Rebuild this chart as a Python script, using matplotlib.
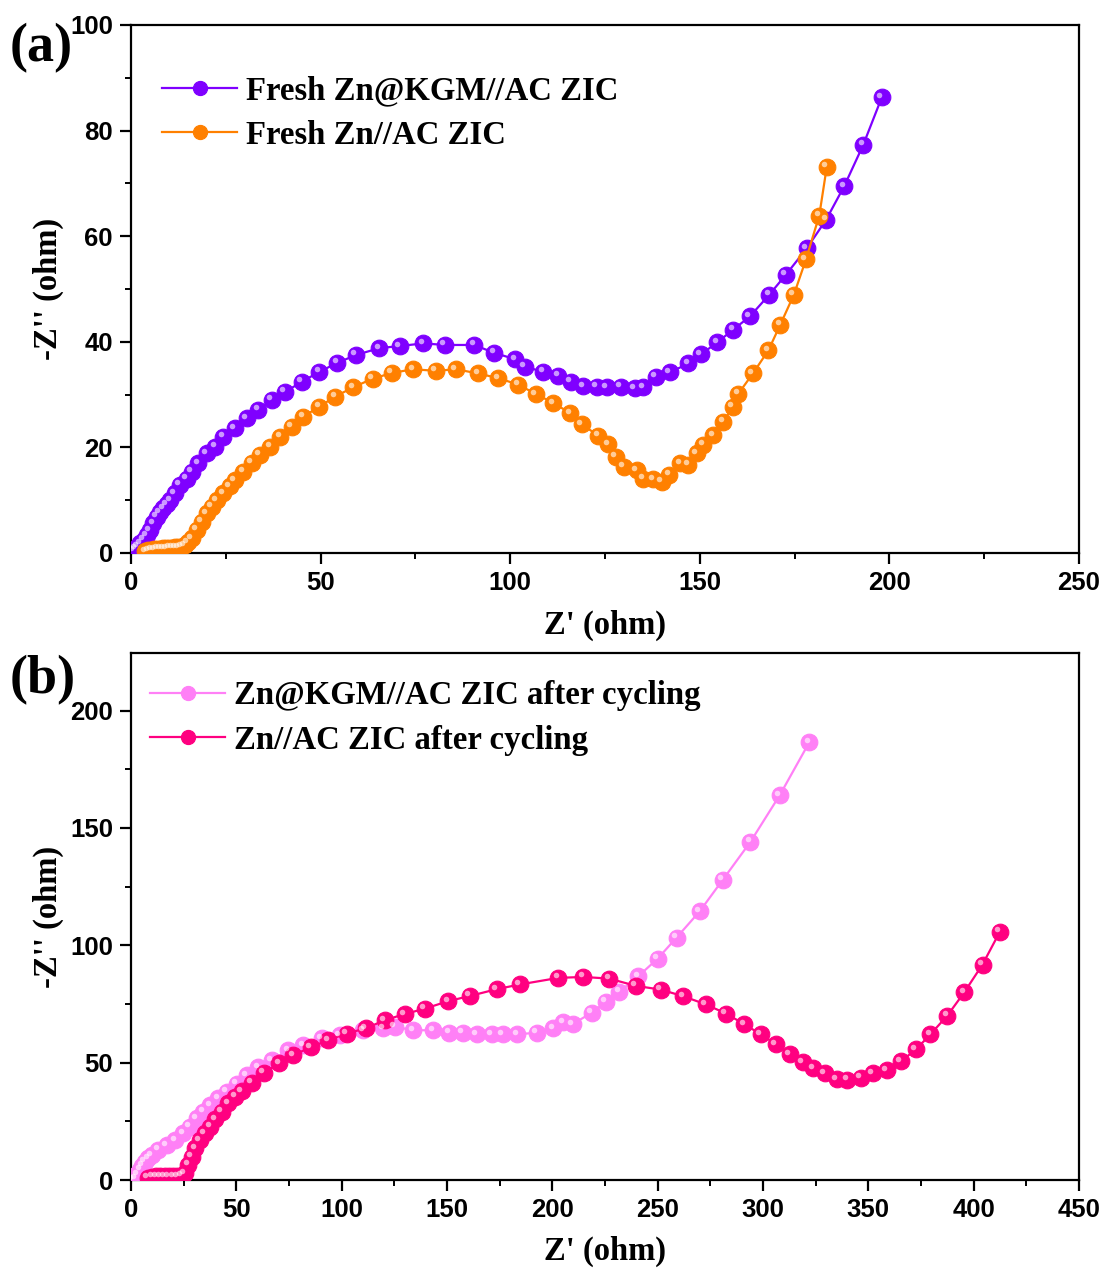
import matplotlib
matplotlib.use("Agg")
import matplotlib.pyplot as plt
from matplotlib.transforms import offset_copy
from matplotlib.ticker import MultipleLocator

# ---- data ----
kgm_fresh_x = [0.6, 1.2, 1.8, 2.4, 3.3, 4.2, 5.0, 5.9, 6.8, 7.6, 8.5, 9.4, 10.3, 11.6, 12.9, 14.7, 16.0, 17.7,
               20.0, 22.2, 24.3, 27.4, 30.5, 33.6, 37.1, 40.6, 45.0, 49.6, 54.4, 59.3, 65.5, 70.9, 77.1, 82.8,
               90.5, 95.8, 101.3, 103.9, 108.7, 112.7, 116.0, 119.3, 122.8, 125.4, 129.1, 132.9, 135.1, 138.4,
               142.1, 147.0, 150.3, 154.6, 158.8, 163.2, 168.3, 172.7, 178.2, 183.3, 188.1, 193.1, 198.0]
kgm_fresh_y = [0.4, 0.8, 1.3, 1.8, 2.5, 3.4, 4.3, 5.6, 6.9, 7.7, 8.5, 9.2, 10.0, 11.3, 12.9, 14.1, 15.4, 17.0,
               18.9, 20.1, 22.0, 23.6, 25.5, 27.1, 29.0, 30.5, 32.4, 34.3, 36.0, 37.5, 38.8, 39.2, 39.7, 39.4,
               39.4, 37.9, 36.7, 35.3, 34.3, 33.6, 32.4, 31.6, 31.5, 31.4, 31.5, 31.2, 31.4, 33.4,
               34.2, 35.9, 37.6, 39.9, 42.3, 44.8, 48.9, 52.7, 57.7, 63.1, 69.5, 77.3, 86.3]

zn_fresh_x = [3.7, 4.5, 5.3, 6.1, 6.9, 7.7, 8.5, 9.3, 10.1, 10.9, 11.7, 12.5, 13.3, 14.2, 15.0,
              16.0, 17.3, 18.6, 20.0, 21.3, 22.6, 24.3, 26.1, 27.4, 29.6, 31.8, 34.0, 36.7, 39.3, 42.4, 45.4,
              49.6, 53.8, 58.6, 63.7, 68.8, 74.4, 80.4, 85.7, 91.6, 96.9, 102.1, 106.8, 111.4, 115.8, 118.9,
              123.2, 125.9, 127.9, 130.0, 133.4, 135.1, 137.7, 140.0, 142.0, 144.8, 147.0, 149.2, 150.9,
              153.6, 156.2, 158.7, 160.2, 164.0, 168.1, 171.2, 174.8, 178.0, 181.5, 183.5]
zn_fresh_y = [0.3, 0.5, 0.6, 0.7, 0.8, 0.8, 0.9, 0.9, 1.0, 1.0, 1.1, 1.1, 1.2, 1.5, 2.0,
              2.8, 4.4, 5.9, 7.5, 8.8, 10.0, 11.3, 12.6, 13.8, 15.4, 17.1, 18.6, 20.1, 22.0, 23.9, 25.8,
              27.7, 29.6, 31.4, 33.0, 34.1, 34.8, 34.5, 34.8, 34.0, 33.1, 31.9, 30.1, 28.4, 26.5, 24.4,
              22.2, 20.6, 18.2, 16.3, 15.7, 14.1, 14.0, 13.5, 14.8, 17.0, 16.7, 18.9, 20.5,
              22.3, 24.9, 27.7, 30.2, 34.0, 38.4, 43.2, 48.9, 55.6, 63.9, 73.2]

kgm_cyc_x = [0.5, 1.9, 3.0, 4.3, 5.4, 6.6, 8.2, 9.8, 13.0, 17.0, 20.9, 24.8, 28.0, 31.2, 34.3, 37.5, 41.4,
             45.4, 50.2, 54.9, 60.4, 66.8, 74.7, 81.8, 90.5, 99.2, 110.3, 119.7, 125.3, 134.0, 143.5, 151.1,
             157.4, 164.1, 171.2, 176.4, 183.3, 192.5, 200.4, 205.2, 209.6, 218.6, 225.4, 231.7, 240.8,
             250.0, 259.0, 270.0, 281.0, 294.0, 308.0, 322.0]
kgm_cyc_y = [0.2, 0.7, 2.5, 4.3, 6.0, 7.8, 9.2, 10.6, 12.8, 14.9, 17.0, 19.9, 22.7, 26.3, 29.1, 31.9, 34.8,
             37.6, 41.1, 44.7, 48.0, 51.1, 55.3, 57.4, 60.3, 61.7, 63.8, 64.6, 65.3, 63.8, 63.8, 62.8,
             62.8, 62.1, 62.1, 62.1, 62.1, 62.7, 64.6, 67.1, 66.4, 71.2, 75.9, 80.1, 86.8,
             94.3, 103.3, 114.5, 128.0, 144.0, 164.0, 186.5]

zn_cyc_x = [8, 10, 12, 14, 16, 18, 20, 22, 24, 25.6, 27.2, 28.8, 30.4, 32.7, 35.1, 37.5, 39.9, 43.0, 46.2,
            49.4, 52.5, 57.3, 63.1, 70.4, 77.0, 85.3, 93.6, 102.4, 111.4, 120.5, 130.0, 139.5, 150.6, 160.9,
            173.6, 184.6, 202.8, 214.7, 226.9, 239.7, 251.5, 262.1, 272.9, 282.4, 291.1, 299.0, 306.1,
            312.8, 318.8, 323.8, 329.4, 334.9, 340.1, 346.3, 352.0, 358.7, 365.5, 372.6, 379.5, 387.4,
            395.5, 404.2, 412.4]
zn_cyc_y = [1.0, 1.3, 1.5, 1.5, 1.5, 1.5, 1.5, 1.6, 1.8, 2.8, 6.4, 9.9, 13.5, 17.0, 19.9, 22.7, 25.8, 29.1, 32.6,
            35.4, 37.9, 41.4, 45.7, 49.7, 53.2, 56.5, 59.6, 62.4, 64.6, 68.1, 70.7, 73.0, 76.2, 78.4,
            81.3, 83.3, 86.1, 86.5, 85.8, 82.7, 81.1, 78.3, 74.8, 70.9, 66.4, 62.0, 57.9,
            53.6, 50.1, 47.5, 45.4, 43.0, 42.6, 43.5, 45.4, 46.8, 50.6, 55.6, 62.1, 69.9,
            79.9, 91.8, 105.7]

W, H = 1107, 1268
fig = plt.figure(figsize=(W / 100, H / 100), dpi=100)

serif = ['Liberation Serif', 'DejaVu Serif']
tickfont = ['Liberation Sans', 'DejaVu Sans']


def ball_series(ax, x, y, color, label):
    ax.plot(x, y, '-', color=color, lw=1.6, marker='o', ms=12, mfc=color,
            mec=color, mew=0.8, label=label, zorder=3)
    # little highlight to fake the shaded spheres
    hl = offset_copy(ax.transData, fig=fig, x=-2.5, y=2.5, units='dots')
    ax.plot(x, y, 'o', ms=4, color='white', alpha=0.6, mew=0, transform=hl, zorder=4)


def style_axes(ax, xmax, ymax, xmaj, ymaj):
    ax.set_xlim(0, xmax)
    ax.set_ylim(0, ymax)
    ax.xaxis.set_major_locator(MultipleLocator(xmaj))
    ax.xaxis.set_minor_locator(MultipleLocator(xmaj / 2))
    ax.yaxis.set_major_locator(MultipleLocator(ymaj))
    ax.yaxis.set_minor_locator(MultipleLocator(ymaj / 2))
    for s in ax.spines.values():
        s.set_linewidth(1.6)
    ax.tick_params(which='major', direction='out', length=8, width=1.6, pad=5)
    ax.tick_params(which='minor', direction='out', length=4.5, width=1.4)
    ax.tick_params(top=False, right=False, which='both')
    for lab in ax.get_xticklabels() + ax.get_yticklabels():
        lab.set_family(tickfont)
        lab.set_fontweight('bold')
        lab.set_fontsize(18.5)
    ax.set_xlabel("Z' (ohm)", family=serif, fontweight='bold', fontsize=23.5)
    ax.set_ylabel("-Z'' (ohm)", family=serif, fontweight='bold', fontsize=23.5)
    ax.xaxis.set_label_coords(0.5, -72 / 528)
    ax.xaxis.label.set_va('center')
    ax.yaxis.set_label_coords((48 - 131) / 948, 0.5)
    ax.yaxis.label.set_va('center')


def add_legend(ax, x0, ytop):
    ax.legend(loc='upper left', bbox_to_anchor=(x0 / W, 1 - ytop / H), bbox_transform=fig.transFigure,
              frameon=False, prop={'family': serif, 'weight': 'bold', 'size': 23.6},
              handlelength=2.3, handletextpad=0.25, borderpad=0, borderaxespad=0,
              labelspacing=0.42, markerscale=0.85)


left = 131 / W
width = 948 / W

# panel (a)
ax1 = fig.add_axes([left, 1 - 553 / H, width, 528 / H])
ball_series(ax1, kgm_fresh_x, kgm_fresh_y, '#7F00FF', 'Fresh Zn@KGM//AC ZIC')
ball_series(ax1, zn_fresh_x, zn_fresh_y, '#FF8000', 'Fresh Zn//AC ZIC')
style_axes(ax1, 250, 100, 50, 20)
add_legend(ax1, 162, 75)

# panel (b)
ax2 = fig.add_axes([left, 1 - 1180 / H, width, 527 / H])
ball_series(ax2, kgm_cyc_x, kgm_cyc_y, '#FF80F6', 'Zn@KGM//AC ZIC after cycling')
ball_series(ax2, zn_cyc_x, zn_cyc_y, '#FF0080', 'Zn//AC ZIC after cycling')
style_axes(ax2, 450, 224.5, 50, 50)
add_legend(ax2, 150, 680)

fig.text(10 / W, 1 - 48 / H, '(a)', family=serif, fontweight='bold', fontsize=39, va='center', ha='left')
fig.text(10 / W, 1 - 680 / H, '(b)', family=serif, fontweight='bold', fontsize=39, va='center', ha='left')

fig.savefig('out.png', dpi=100)
